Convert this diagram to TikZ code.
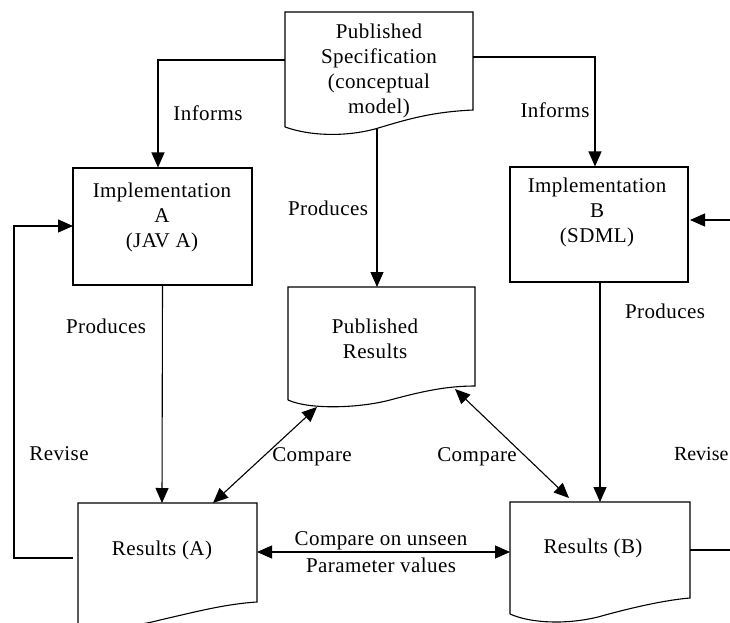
\documentclass[tikz,border=0pt]{standalone}
\usepackage{fontspec}
\setmainfont{Liberation Serif}[LetterSpace=2]
\usetikzlibrary{arrows.meta}
\begin{document}
\begin{tikzpicture}[x=1pt,y=-1pt,
  line width=1.1pt,
  every node/.style={font=\fontsize{21}{25}\selectfont, inner sep=0pt},
  txt/.style={align=center},
  lbl/.style={},
  conn/.style={-{Triangle[length=15pt,width=13pt]}},
  biconn/.style={{Triangle[length=15pt,width=13pt]}-{Triangle[length=15pt,width=13pt]}}
]
\useasboundingbox (0,0) rectangle (730,623);
\fill[white] (0,0) rectangle (730,623);

% Published Specification (document shape)
\draw (285,127) -- (285,12) -- (473,12) -- (473,110)
  .. controls (430,112) and (405,120) .. (375,129)
  .. controls (345,137) and (310,136) .. (285,127);
\node[txt] (spec) at (379,71) {Published\\Specification\\(conceptual\\model)};
\coordinate (specL) at (285,60);
\coordinate (specR) at (473,57);
\coordinate (specB) at (377,129);

% Implementation A
\node[draw, minimum width=179pt, minimum height=117pt] (ia) at (162.5,226.5) {};
\node[txt] (iat) at (162,217) {Implementation\\A\\(JAV A)};
% Implementation B
\node[draw, minimum width=178pt, minimum height=115pt] (ib) at (599,224.5) {};
\node[txt] (ibt) at (597,212) {Implementation\\B\\(SDML)};

% Published Results
\draw (288,400) -- (288,287) -- (475,287) -- (475,386)
  .. controls (445,386) and (420,392) .. (390,400)
  .. controls (360,408) and (310,410) .. (288,400);
\node[txt] (pr) at (375,339) {Published\\Results};
\coordinate (prT) at (377,287);
\coordinate (prBL) at (317,407);
\coordinate (prBR) at (455,389);

% Results (A)
\draw (78,630) -- (78,503) -- (257,503) -- (257,602)
  .. controls (225,604) and (195,612) .. (160,620)
  .. controls (130,628) and (100,628) .. (78,630);
\node (ra) at (162,550) {Results (A)};
\coordinate (raT) at (162,503);
\coordinate (raTR) at (213,503);
\coordinate (raR) at (257,552);
\coordinate (raL) at (73,558);

% Results (B)
\draw (510,614) -- (510,502) -- (690,502) -- (690,598)
  .. controls (665,600) and (630,608) .. (598,617)
  .. controls (565,625) and (530,623) .. (510,614);
\node (rb) at (593,548) {Results (B)};
\coordinate (rbT) at (600,502);
\coordinate (rbTL) at (569,498);
\coordinate (rbL) at (510,552);
\coordinate (rbR) at (690,550);

% loop coordinates
\coordinate (loopA) at (14,558);
\coordinate (loopA2) at (14,226);
\coordinate (iaL) at (73,226);
\coordinate (ibR) at (690,220);
\coordinate (offR1) at (740,550);
\coordinate (offR2) at (740,220);

% connectors
\draw[conn] (specL) -| (ia.north -| 158,0);
\draw[conn] (specR) -| (ib.north -| 595,0);
\draw[conn] (specB) -- (prT);
\draw[conn] (ia.south) -- (raT);
\draw[conn] (ib.south -| rbT) -- (rbT);
\draw[conn] (raL) -- (loopA) -- (loopA2) -- (iaL);
\draw (rbR) -- (offR1);
\draw[conn] (offR2) -- (ibR);
\draw[biconn] (raR) -- (rbL);
\draw[biconn] (prBL) -- (raTR);
\draw[biconn] (prBR) -- (rbTL);

% labels
\node[lbl] (l1) at (208,113) {Informs};
\node[lbl] (l2) at (555,110) {Informs};
\node[lbl] (l3) at (328,208) {Produces};
\node[lbl] (l4) at (106,326) {Produces};
\node[lbl] (l5) at (665,311) {Produces};
\node[lbl] (l6) at (59,454) {Revise};
\node[lbl, anchor=east, font=\fontsize{20}{24}\selectfont\addfontfeature{LetterSpace=0}] (l7) at (729,454) {Revise};
\node[lbl] (l8) at (312,457) {Compare};
\node[lbl] (l9) at (477,457) {Compare};
\node[lbl] (l10) at (381,541) {Compare on unseen};
\node[lbl] (l11) at (381,565) {Parameter values};
\end{tikzpicture}
\end{document}
